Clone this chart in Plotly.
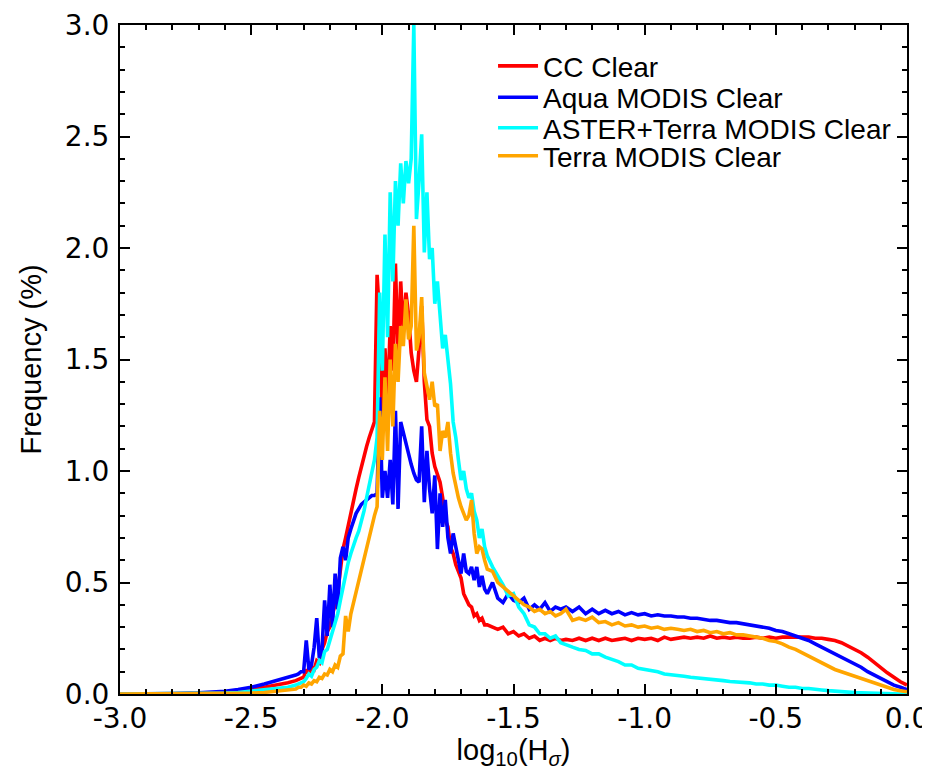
import plotly.graph_objects as go

# ---- data ----
log_h_sigma = [
    -3.0, -2.9, -2.8, -2.7, -2.6, -2.55, -2.5, -2.45, -2.4, -2.36,
    -2.33, -2.32, -2.31, -2.30, -2.29, -2.28, -2.27, -2.26, -2.25, -2.24,
    -2.23, -2.22, -2.21, -2.20, -2.19, -2.18, -2.17, -2.16, -2.15, -2.14,
    -2.13, -2.12, -2.11, -2.10, -2.09, -2.08, -2.07, -2.06, -2.05, -2.04,
    -2.03, -2.02, -2.01, -2.00, -1.99, -1.98, -1.97, -1.96, -1.95, -1.94,
    -1.93, -1.92, -1.91, -1.90, -1.89, -1.88, -1.87, -1.86, -1.85, -1.84,
    -1.83, -1.82, -1.81, -1.80, -1.79, -1.78, -1.77, -1.76, -1.75, -1.74,
    -1.73, -1.72, -1.71, -1.70, -1.69, -1.68, -1.67, -1.66, -1.65, -1.64,
    -1.63, -1.62, -1.61, -1.60,
    -1.58, -1.56, -1.54, -1.52, -1.50, -1.48, -1.46, -1.44, -1.42, -1.40,
    -1.38, -1.36, -1.34, -1.32, -1.30,
    -1.275, -1.25, -1.225, -1.2, -1.175, -1.15, -1.125, -1.1, -1.075, -1.05,
    -1.025, -1.0, -0.975, -0.95, -0.925, -0.9, -0.875, -0.85, -0.825, -0.8,
    -0.775, -0.75, -0.725, -0.7, -0.675, -0.65, -0.625, -0.6, -0.575, -0.55,
    -0.525, -0.5, -0.475, -0.45, -0.425, -0.4, -0.375, -0.35, -0.325, -0.3,
    -0.275, -0.25, -0.225, -0.2, -0.175, -0.15, -0.125, -0.1, -0.075, -0.05,
    -0.025, 0.0,
]

cc_clear = [
    0, 0, 0, 0.002, 0.006, 0.012, 0.02, 0.03, 0.04, 0.05,
    0.06, 0.065, 0.07, 0.075, 0.11, 0.09, 0.12, 0.11, 0.15, 0.14,
    0.20, 0.23, 0.28, 0.30, 0.36, 0.40, 0.46, 0.55, 0.65, 0.70,
    0.76, 0.81, 0.87, 0.92, 0.97, 1.02, 1.06, 1.11, 1.15, 1.19,
    1.22, 1.88, 1.68, 1.20, 1.55, 1.30, 1.65, 1.45, 1.93, 1.50,
    1.85, 1.62, 1.80, 1.70, 1.53, 1.45, 1.40, 1.55, 1.74, 1.40,
    1.23, 1.20, 1.08, 1.02, 0.98, 0.95, 0.88, 0.78, 0.75, 0.66,
    0.63, 0.58, 0.55, 0.52, 0.45, 0.42, 0.40, 0.39, 0.35, 0.36,
    0.33, 0.34, 0.31, 0.31,
    0.30, 0.29, 0.30, 0.27, 0.28, 0.26, 0.27, 0.25, 0.26, 0.24,
    0.25, 0.24, 0.25, 0.24, 0.245,
    0.24, 0.25, 0.24, 0.25, 0.24, 0.25, 0.24, 0.245, 0.25, 0.24,
    0.25, 0.245, 0.25, 0.24, 0.255, 0.245, 0.25, 0.255, 0.25, 0.255,
    0.25, 0.26, 0.25, 0.255, 0.25, 0.255, 0.25, 0.25, 0.255, 0.25,
    0.255, 0.25, 0.255, 0.255, 0.255, 0.255, 0.255, 0.25, 0.25, 0.245,
    0.24, 0.23, 0.215, 0.20, 0.185, 0.165, 0.14, 0.12, 0.095, 0.075,
    0.055, 0.04,
]

aqua_modis_clear = [
    0, 0, 0.002, 0.005, 0.012, 0.02, 0.03, 0.045, 0.06, 0.075,
    0.085, 0.09, 0.10, 0.10, 0.24, 0.11, 0.13, 0.21, 0.34, 0.16,
    0.20, 0.42, 0.26, 0.49, 0.30, 0.54, 0.38, 0.61, 0.66, 0.60,
    0.70, 0.74, 0.78, 0.81, 0.83, 0.85, 0.86, 0.87, 0.88, 0.89,
    0.89, 0.90, 1.33, 0.88, 1.00, 0.88, 1.05, 0.85, 1.27, 0.83,
    1.22, 1.17, 1.12, 1.07, 1.03, 0.99, 0.96, 0.95, 1.20, 0.86,
    1.09, 0.92, 0.81, 0.98, 0.65, 0.90, 0.75, 0.87, 0.70, 0.63,
    0.72, 0.66, 0.60, 0.54, 0.63, 0.55, 0.54, 0.57, 0.51, 0.57,
    0.48, 0.53, 0.47, 0.45,
    0.50, 0.43, 0.41, 0.45, 0.42, 0.41, 0.43, 0.38, 0.40, 0.38,
    0.41, 0.37, 0.39, 0.38, 0.39,
    0.37, 0.39, 0.36, 0.38, 0.36, 0.375, 0.36, 0.37, 0.355, 0.365,
    0.355, 0.36, 0.35, 0.355, 0.35, 0.35, 0.345, 0.345, 0.34, 0.34,
    0.335, 0.33, 0.33, 0.325, 0.32, 0.32, 0.315, 0.31, 0.305, 0.30,
    0.295, 0.285, 0.28, 0.27, 0.26, 0.25, 0.24, 0.225, 0.21, 0.195,
    0.18, 0.165, 0.15, 0.135, 0.12, 0.10, 0.085, 0.07, 0.055, 0.04,
    0.03, 0.02,
]

aster_terra_clear = [
    0, 0, 0, 0.001, 0.004, 0.007, 0.012, 0.018, 0.025, 0.03,
    0.04, 0.045, 0.05, 0.055, 0.07, 0.09, 0.08, 0.11, 0.12, 0.15,
    0.14, 0.19, 0.20, 0.24, 0.27, 0.31, 0.36, 0.42, 0.48, 0.54,
    0.59, 0.63, 0.67, 0.70, 0.73, 0.77, 0.82, 0.88, 0.94, 1.00,
    1.05, 1.15, 1.80, 1.45, 2.06, 1.60, 2.25, 1.85, 2.30, 2.10,
    2.38, 2.20, 2.39, 2.29, 2.40, 3.00, 2.13, 2.30, 2.51, 1.98,
    2.25, 1.95, 2.00, 1.75, 1.85, 1.70, 1.55, 1.61, 1.51, 1.39,
    1.22, 1.15, 1.05, 0.96, 1.00, 0.92, 0.88, 0.90, 0.82, 0.78,
    0.70, 0.74, 0.66, 0.62,
    0.57, 0.53, 0.49, 0.44, 0.45, 0.39, 0.36, 0.31, 0.30, 0.27,
    0.27, 0.25, 0.26, 0.23, 0.22,
    0.21, 0.20, 0.195, 0.18, 0.18, 0.165, 0.155, 0.145, 0.13, 0.13,
    0.115, 0.11, 0.105, 0.10, 0.09, 0.088, 0.085, 0.08, 0.075, 0.072,
    0.07, 0.065, 0.066, 0.06, 0.056, 0.055, 0.05, 0.05, 0.045, 0.045,
    0.04, 0.04, 0.035, 0.03, 0.03, 0.025, 0.025, 0.02, 0.018, 0.015,
    0.012, 0.01, 0.008, 0.006, 0.005, 0.005, 0.004, 0.003, 0.002, 0.001,
    0.0, 0.0,
]

terra_modis_clear = [
    0, 0, 0, 0, 0.001, 0.002, 0.004, 0.007, 0.012, 0.018,
    0.022, 0.03, 0.03, 0.04, 0.035, 0.05, 0.045, 0.06, 0.055, 0.075,
    0.07, 0.09, 0.085, 0.11, 0.10, 0.13, 0.12, 0.17, 0.18, 0.35,
    0.28, 0.36, 0.41, 0.46, 0.51, 0.56, 0.61, 0.66, 0.70, 0.75,
    0.80, 0.84, 1.27, 1.05, 1.42, 1.09, 1.50, 1.20, 1.57, 1.40,
    1.65, 1.56, 1.77, 1.59, 1.65, 2.10, 1.54, 1.60, 1.78, 1.44,
    1.38, 1.32, 1.40, 1.29, 1.30, 1.09, 1.18, 1.15, 1.22, 1.08,
    0.99, 0.93, 0.88, 0.84, 0.81, 0.78, 0.80, 0.87, 0.72, 0.63,
    0.66, 0.65, 0.60, 0.56,
    0.55, 0.50, 0.48, 0.46, 0.44, 0.42, 0.40, 0.39, 0.37, 0.38,
    0.36, 0.37, 0.35, 0.36, 0.38,
    0.33, 0.34, 0.33, 0.345, 0.32, 0.325, 0.31, 0.32, 0.305, 0.31,
    0.30, 0.305, 0.295, 0.30, 0.29, 0.295, 0.29, 0.285, 0.29, 0.28,
    0.285, 0.275, 0.28, 0.27, 0.275, 0.265, 0.265, 0.26, 0.255, 0.25,
    0.24, 0.235, 0.225, 0.21, 0.20, 0.185, 0.17, 0.155, 0.14, 0.125,
    0.11, 0.10, 0.09, 0.08, 0.07, 0.06, 0.05, 0.04, 0.03, 0.02,
    0.015, 0.01,
]

series_names = ["CC Clear", "Aqua MODIS Clear", "ASTER+Terra MODIS Clear", "Terra MODIS Clear"]
series_values = [cc_clear, aqua_modis_clear, aster_terra_clear, terra_modis_clear]
series_colors = ["#ff0000", "#0000ff", "#00ffff", "#ffa500"]

x_tick_vals = [-3.0, -2.5, -2.0, -1.5, -1.0, -0.5, 0.0]
x_tick_labels = ["-3.0", "-2.5", "-2.0", "-1.5", "-1.0", "-0.5", "0.0"]
y_tick_vals = [0.0, 0.5, 1.0, 1.5, 2.0, 2.5, 3.0]
y_tick_labels = ["0.0", "0.5", "1.0", "1.5", "2.0", "2.5", "3.0"]

for v in series_values:
    assert len(v) == len(log_h_sigma), len(v)

# ---- figure ----
FONT = "Liberation Sans, Arial, Helvetica, sans-serif"
TICK_FONT = "DejaVu Sans, Liberation Sans, sans-serif"
legend_ids = ["legend", "legend2", "legend3", "legend4"]
legend_rows_y = [0.9385, 0.8915, 0.846, 0.8042]

fig = go.Figure()
for name, vals, col, lid in zip(series_names, series_values, series_colors, legend_ids):
    fig.add_trace(go.Scatter(x=log_h_sigma, y=vals, mode="lines", name=name,
                             line=dict(color=col, width=3.6), legend=lid))

axis_common = dict(
    showline=True, linecolor="black", linewidth=2, mirror="ticks",
    ticks="inside", ticklen=10, tickwidth=2, tickcolor="black",
    showgrid=False, zeroline=False, automargin=False,
    tickfont=dict(family=TICK_FONT, size=28, color="black"),
)

fig.update_xaxes(range=[-3, 0], tickvals=x_tick_vals, ticktext=x_tick_labels,
                 ticklabelstandoff=-2,
                 minor=dict(ticks="inside", ticklen=5, tickwidth=1.5, tickcolor="black", dtick=0.1, tick0=0),
                 title=dict(text="log<sub>10</sub>(H<sub><i>σ</i></sub>)",
                            font=dict(family=FONT, size=29, color="black"), standoff=0),
                 **axis_common)
fig.update_yaxes(range=[0, 3], tickvals=y_tick_vals, ticktext=y_tick_labels,
                 ticklabelstandoff=3,
                 minor=dict(ticks="inside", ticklen=5, tickwidth=1.5, tickcolor="black", dtick=0.1, tick0=0),
                 title=dict(text="Frequency (%)",
                            font=dict(family=FONT, size=29, color="black"), standoff=15),
                 **axis_common)

legend_style = dict(x=0.474, xanchor="left", yanchor="middle",
                    bgcolor="rgba(0,0,0,0)", borderwidth=0,
                    font=dict(family=FONT, size=28, color="black"), itemwidth=40)

# the page body has an 8px margin: size the figure so the plot sits where the reference has it
fig.update_layout(
    width=922, height=762,
    margin=dict(l=112, r=23, t=17, b=76, autoexpand=False),
    plot_bgcolor="white", paper_bgcolor="white",
    font=dict(family=FONT, size=27, color="black"),
    legend=dict(y=legend_rows_y[0], **legend_style),
    legend2=dict(y=legend_rows_y[1], **legend_style),
    legend3=dict(y=legend_rows_y[2], **legend_style),
    legend4=dict(y=legend_rows_y[3], **legend_style),
    showlegend=True,
)

fig.write_html("out.html")
